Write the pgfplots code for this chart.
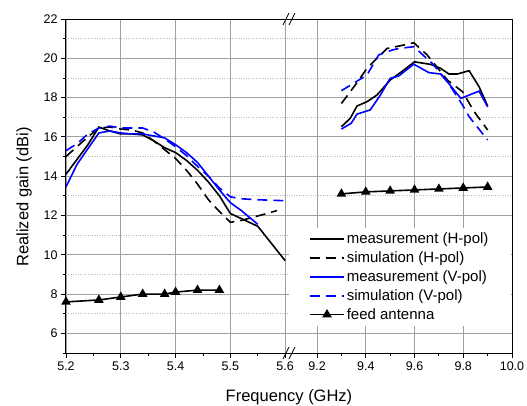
\documentclass[border=0pt]{standalone}
\usepackage{fontspec}
\setmainfont{Liberation Sans}
\usepackage{pgfplots}
\pgfplotsset{compat=1.18}

\definecolor{gridmaj}{RGB}{160,160,160}
\definecolor{gridmin}{RGB}{185,185,185}

\pgfplotsset{
  brk/.style={
    scale only axis, width=223pt, height=334pt,
    ymin=5, ymax=22, ytick={6,8,...,22}, minor ytick={5,7,...,21},
    tick align=outside, major tick length=5pt, minor tick length=3pt,
    xtick pos=bottom,
    xmajorgrids, ymajorgrids, yminorgrids,
    major grid style={gridmaj, line width=0.8pt},
    minor grid style={gridmin, dotted, line width=0.8pt},
    axis line style={line width=1pt},
    every tick/.append style={black, line width=0.8pt},
    tick label style={font=\fontsize{12.5}{15}\selectfont},
    /pgf/number format/assume math mode=true,
    xticklabel style={/pgf/number format/.cd, fixed, fixed zerofill, precision=1},
  },
  mh/.style={black, line width=1.6pt},
  sh/.style={black, line width=1.6pt, dash pattern=on 10pt off 6pt},
  mv/.style={blue, line width=1.6pt},
  sv/.style={blue, line width=1.6pt, dash pattern=on 10pt off 6pt},
  fa/.style={black, line width=1.6pt, mark=triangle*, mark size=4pt, mark options={solid}},
}

\begin{document}
\begin{tikzpicture}
% lower band
\begin{axis}[brk, name=L,
    axis y line*=left,
    xmin=5.2, xmax=5.607,
    xtick={5.2,5.3,5.4,5.5,5.6}, minor xtick={5.25,5.35,5.45,5.55},
    ylabel={Realized gain (dBi)},
    ylabel style={at={(axis description cs:-0.188,0.467)}, anchor=center,
      font=\fontsize{16.5}{20}\selectfont},
]
\addplot[mh] coordinates {
  (5.2,14.1) (5.22,14.85) (5.24,15.6) (5.26,16.5) (5.28,16.3) (5.3,16.15)
  (5.32,16.15) (5.34,16.1) (5.36,15.8) (5.38,15.45) (5.4,15.2) (5.42,14.8)
  (5.44,14.3) (5.46,13.7) (5.48,13.0) (5.5,12.1) (5.55,11.45) (5.6,9.7)
};
\addplot[sh] coordinates {
  (5.2,15.0) (5.22,15.5) (5.24,16.0) (5.26,16.45) (5.28,16.5) (5.3,16.4)
  (5.32,16.35) (5.34,16.2) (5.36,15.8) (5.38,15.35) (5.4,14.9) (5.42,14.3)
  (5.44,13.6) (5.46,12.8) (5.48,12.2) (5.5,11.65) (5.52,11.75) (5.54,11.9)
  (5.56,12.05) (5.585,12.25)
};
\addplot[mv] coordinates {
  (5.2,13.45) (5.22,14.6) (5.24,15.4) (5.26,16.2) (5.28,16.3) (5.3,16.2)
  (5.32,16.15) (5.34,16.15) (5.36,16.05) (5.38,15.95) (5.4,15.6) (5.42,15.2)
  (5.44,14.7) (5.46,14.0) (5.48,13.3) (5.5,12.65) (5.52,12.25) (5.55,11.55)
};
\addplot[sv] coordinates {
  (5.2,15.3) (5.22,15.65) (5.24,16.15) (5.26,16.45) (5.28,16.55) (5.3,16.45)
  (5.32,16.45) (5.34,16.45) (5.36,16.25) (5.38,15.9) (5.4,15.5) (5.42,15.05)
  (5.44,14.5) (5.46,14.0) (5.48,13.4) (5.5,12.95) (5.52,12.85) (5.55,12.8)
  (5.6,12.75)
};
\addplot[fa] coordinates {
  (5.2,7.6) (5.26,7.7) (5.3,7.85) (5.34,8.0) (5.38,8.0) (5.4,8.1)
  (5.44,8.2) (5.48,8.2)
};
\end{axis}

% upper band
\begin{axis}[brk, name=R,
    at={(L.south east)}, anchor=south west,
    axis y line*=right, yticklabels={}, ytick style={draw=none},
    xmin=9.085, xmax=10.0,
    xtick={9.2,9.4,9.6,9.8,10.0}, minor xtick={9.3,9.5,9.7,9.9},
    legend cell align=left,
    legend style={at={(axis description cs:0.0,0.375)}, anchor=north west,
      draw=none, fill=white, inner xsep=20pt, inner ysep=3pt, row sep=2.5pt,
      font=\fontsize{15}{18}\selectfont},
    legend image code/.code={\draw[mark repeat=2, mark phase=2, #1]
      plot coordinates {(0pt,0pt) (17pt,0pt) (34pt,0pt)};},
]
\addplot[mh] coordinates {
  (9.3,16.52) (9.336,16.94) (9.364,17.57) (9.405,17.79) (9.446,18.13)
  (9.5,18.89) (9.556,19.4) (9.6,19.82) (9.666,19.69) (9.707,19.49)
  (9.741,19.2) (9.776,19.2) (9.824,19.37) (9.865,18.55) (9.9,17.57)
};
\addlegendentry{measurement (H-pol)}
\addplot[sh] coordinates {
  (9.3,17.7) (9.357,18.64) (9.405,19.49) (9.46,20.17) (9.487,20.5)
  (9.535,20.62) (9.597,20.79) (9.652,20.17) (9.735,18.89) (9.797,18.3)
  (9.845,17.28) (9.9,16.35)
};
\addlegendentry{simulation (H-pol)}
\addplot[mv] coordinates {
  (9.3,16.4) (9.34,16.69) (9.364,17.16) (9.418,17.37) (9.46,18.13)
  (9.5,18.98) (9.535,19.1) (9.597,19.7) (9.659,19.27) (9.707,19.2)
  (9.735,18.8) (9.79,17.96) (9.865,18.33) (9.9,17.53)
};
\addlegendentry{measurement (V-pol)}
\addplot[sv] coordinates {
  (9.3,18.35) (9.405,19.15) (9.453,20.17) (9.508,20.42) (9.535,20.5)
  (9.597,20.59) (9.673,19.74) (9.735,18.81) (9.797,17.62) (9.824,17.03)
  (9.9,15.84)
};
\addlegendentry{simulation (V-pol)}
\addplot[fa] coordinates {
  (9.3,13.1) (9.4,13.2) (9.5,13.25) (9.6,13.3) (9.7,13.35) (9.8,13.4) (9.9,13.45)
};
\addlegendentry{feed antenna}
\end{axis}

% axis break marks
\foreach \dx in {-3,3} {
  \draw[line width=0.8pt] ([xshift={\dx pt-3pt}, yshift=-6pt]L.north east) -- ++(6pt,12pt);
  \draw[line width=0.8pt] ([xshift={\dx pt-3pt}, yshift=-6pt]L.south east) -- ++(6pt,12pt);
}

\node[font=\fontsize{16.5}{20}\selectfont] at ([yshift=-44pt]L.south east) {Frequency (GHz)};

\pgfresetboundingbox
\path ([xshift=-66pt, yshift=-52pt]L.south west) rectangle ++(527pt,405pt);
\end{tikzpicture}
\end{document}
